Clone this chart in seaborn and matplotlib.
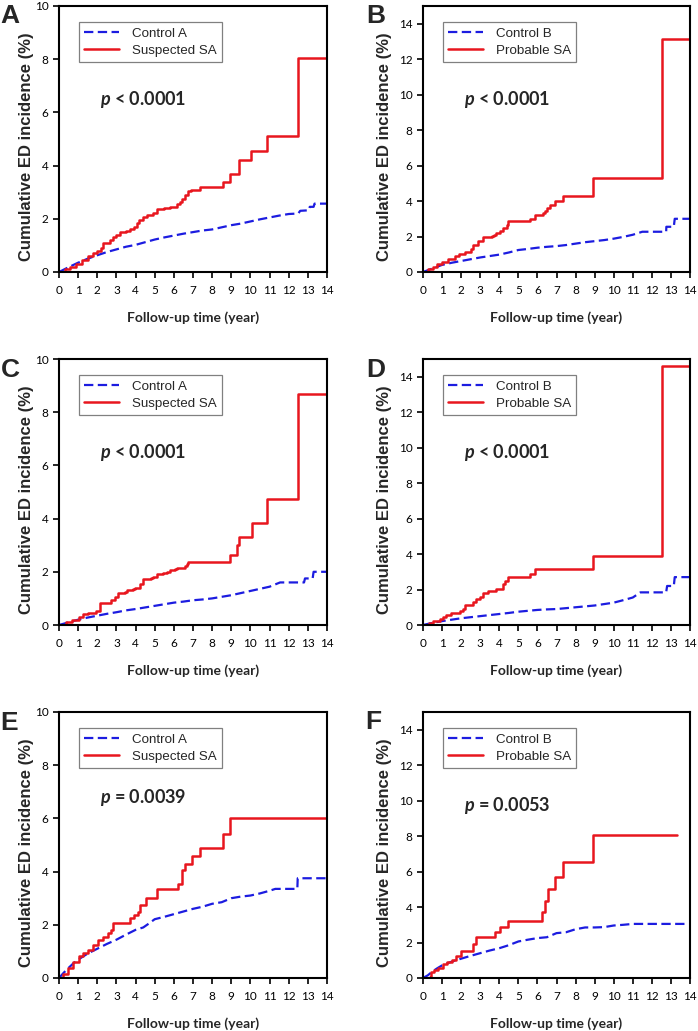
import matplotlib
matplotlib.use("Agg")
import matplotlib.pyplot as plt
import pandas as pd
import seaborn as sns

# ---- values (cumulative ED incidence, %) ----
# control curves: many tiny steps, drawn as a line; repeated times mark the visible jumps
# case curves: drawn as steps (step-post)

# panel A: control A vs suspected SA
a_ctrl_t = [0, 0.5, 1, 1.5, 2, 2.5, 3, 3.5, 4, 4.5, 5, 5.5, 6, 6.5, 7, 7.5, 8, 8.5, 9, 9.5,
            10, 10.5, 11, 11.5, 12, 12.5, 12.6, 13.05, 13.1, 13.3, 13.35, 14]
a_ctrl_y = [0, 0.18, 0.35, 0.5, 0.63, 0.75, 0.85, 0.95, 1.02, 1.12, 1.22, 1.3, 1.37, 1.44, 1.5, 1.56,
            1.6, 1.68, 1.76, 1.82, 1.9, 1.98, 2.05, 2.12, 2.18, 2.2, 2.3, 2.32, 2.45, 2.45, 2.57, 2.57]
a_case_t = [0, 0.3, 0.6, 0.9, 1.2, 1.5, 1.8, 2.0, 2.2, 2.3, 2.65, 2.8, 3.0, 3.2, 3.5, 3.7, 3.9, 4.1,
            4.2, 4.4, 4.6, 4.9, 5.1, 5.5, 5.8, 6.15, 6.3, 6.45, 6.6, 6.75, 6.9, 7.35, 8.55, 8.95,
            9.4, 10.05, 10.85, 12.47, 14]
a_case_y = [0, 0.1, 0.2, 0.3, 0.45, 0.6, 0.7, 0.8, 0.9, 1.1, 1.2, 1.3, 1.4, 1.5, 1.55, 1.6, 1.7, 1.85,
            1.95, 2.05, 2.15, 2.2, 2.35, 2.4, 2.45, 2.55, 2.65, 2.75, 2.9, 3.05, 3.1, 3.2, 3.4, 3.7,
            4.2, 4.55, 5.1, 8.05, 8.05]

# panel B: control B vs probable SA
b_ctrl_t = [0, 0.5, 1, 1.5, 2, 2.5, 3, 3.5, 4, 4.5, 5, 5.5, 6, 6.5, 7, 7.5, 8, 8.5, 9, 9.5,
            10, 10.5, 11, 11.5, 12.75, 12.76, 13.15, 13.2, 14]
b_ctrl_y = [0, 0.2, 0.4, 0.52, 0.62, 0.72, 0.82, 0.9, 0.98, 1.1, 1.24, 1.3, 1.37, 1.42, 1.46, 1.52,
            1.6, 1.68, 1.74, 1.8, 1.88, 1.98, 2.1, 2.27, 2.27, 2.55, 2.55, 3.0, 3.0]
b_case_t = [0, 0.25, 0.5, 0.75, 1.0, 1.3, 1.66, 1.9, 2.19, 2.5, 2.63, 2.89, 3.15, 3.6, 3.7, 3.85,
            4.03, 4.2, 4.38, 4.47, 5.6, 5.87, 6.3, 6.4, 6.5, 6.65, 6.92, 7.36, 8.93, 12.52, 14]
b_case_y = [0, 0.15, 0.3, 0.45, 0.58, 0.75, 0.9, 1.0, 1.1, 1.3, 1.5, 1.75, 2.0, 2.05, 2.1, 2.2,
            2.3, 2.5, 2.65, 2.9, 3.0, 3.2, 3.3, 3.45, 3.6, 3.8, 4.0, 4.3, 5.3, 13.15, 13.15]

# panel C
c_ctrl_t = [0, 0.5, 1, 1.5, 2, 2.5, 3, 3.5, 4, 4.5, 5, 5.5, 6, 6.5, 7, 7.5, 8, 8.5, 9, 9.5,
            10, 10.5, 11, 11.55, 12.8, 12.85, 13.25, 13.3, 14]
c_ctrl_y = [0, 0.1, 0.2, 0.28, 0.35, 0.42, 0.48, 0.55, 0.6, 0.66, 0.72, 0.78, 0.84, 0.88, 0.93,
            0.96, 1.0, 1.06, 1.12, 1.2, 1.28, 1.36, 1.44, 1.6, 1.6, 1.75, 1.75, 2.0, 2.0]
c_case_t = [0, 0.35, 0.7, 1.03, 1.25, 1.52, 1.95, 2.13, 2.74, 2.91, 3.09, 3.44, 3.53, 3.87, 3.96,
            4.22, 4.4, 4.83, 4.92, 5.1, 5.45, 5.62, 5.79, 6.06, 6.14, 6.58, 6.67, 6.75, 8.94, 9.28,
            9.42, 10.07, 10.84, 12.48, 14]
c_case_y = [0, 0.1, 0.2, 0.3, 0.4, 0.46, 0.54, 0.81, 0.95, 1.05, 1.2, 1.25, 1.3, 1.35, 1.4,
            1.55, 1.72, 1.75, 1.8, 1.9, 1.95, 2.0, 2.05, 2.1, 2.15, 2.2, 2.3, 2.38, 2.65, 3.0,
            3.3, 3.85, 4.75, 8.7, 8.7]

# panel D
d_ctrl_t = [0, 0.5, 1, 1.5, 2, 2.5, 3, 3.5, 4, 4.5, 5, 5.5, 6, 6.5, 7, 7.5, 8, 8.5, 9, 9.5,
            10, 10.5, 11, 11.4, 12.75, 12.8, 13.15, 13.2, 14]
d_ctrl_y = [0, 0.12, 0.22, 0.3, 0.38, 0.44, 0.5, 0.56, 0.62, 0.68, 0.75, 0.8, 0.85, 0.88, 0.9,
            0.95, 1.0, 1.05, 1.1, 1.18, 1.26, 1.4, 1.55, 1.84, 1.84, 2.2, 2.2, 2.7, 2.7]
d_case_t = [0, 0.3, 0.53, 0.88, 1.05, 1.23, 1.49, 1.93, 2.1, 2.19, 2.63, 2.8, 2.98, 3.15, 3.42,
            3.85, 4.2, 4.29, 4.47, 5.6, 5.87, 8.93, 12.52, 14]
d_case_y = [0, 0.1, 0.25, 0.35, 0.45, 0.55, 0.7, 0.8, 0.9, 1.1, 1.3, 1.45, 1.6, 1.8, 1.9,
            2.05, 2.3, 2.5, 2.7, 2.9, 3.15, 3.9, 14.6, 14.6]

# panel E
e_ctrl_t = [0, 0.25, 0.5, 0.75, 1, 1.5, 2, 2.5, 3, 3.5, 4, 4.4, 4.7, 5, 5.5, 6, 6.5, 7, 7.5, 8,
            8.5, 9, 9.5, 10, 10.5, 11, 11.3, 12.45, 12.47, 14]
e_ctrl_y = [0, 0.2, 0.38, 0.55, 0.69, 0.92, 1.1, 1.28, 1.44, 1.63, 1.81, 1.9, 2.05, 2.21, 2.3,
            2.4, 2.5, 2.6, 2.68, 2.79, 2.85, 3.0, 3.06, 3.1, 3.18, 3.28, 3.35, 3.35, 3.75, 3.75]
e_case_t = [0, 0.2, 0.47, 0.75, 1.03, 1.25, 1.52, 1.8, 2.04, 2.3, 2.57, 2.74, 2.83, 3.7, 3.9,
            4.14, 4.22, 4.57, 5.1, 6.23, 6.4, 6.58, 6.93, 7.36, 8.55, 8.94, 14]
e_case_y = [0, 0.15, 0.37, 0.6, 0.81, 0.95, 1.06, 1.25, 1.44, 1.56, 1.69, 1.81, 2.07, 2.25, 2.35,
            2.5, 2.75, 3.0, 3.35, 3.55, 4.05, 4.3, 4.6, 4.9, 5.4, 6.02, 6.02]

# panel F
f_ctrl_t = [0, 0.25, 0.5, 0.75, 1, 1.5, 2, 2.5, 3, 3.5, 4, 4.5, 5, 5.5, 6, 6.5, 7, 7.5, 8, 8.5,
            9, 9.5, 10, 10.5, 11, 13.75]
f_ctrl_y = [0, 0.15, 0.37, 0.55, 0.71, 0.92, 1.09, 1.25, 1.4, 1.55, 1.68, 1.85, 2.06, 2.16, 2.25,
            2.3, 2.53, 2.58, 2.75, 2.85, 2.85, 2.87, 2.96, 3.0, 3.05, 3.05]
f_case_t = [0, 0.35, 0.44, 0.6, 0.8, 1.05, 1.25, 1.5, 1.75, 2.0, 2.6, 2.8, 3.76, 4.03, 4.47,
            6.22, 6.4, 6.57, 6.9, 7.35, 8.93, 13.3]
f_case_y = [0, 0.05, 0.34, 0.45, 0.56, 0.79, 0.9, 1.01, 1.22, 1.5, 1.9, 2.3, 2.6, 2.85, 3.2,
            3.75, 4.35, 5.0, 5.7, 6.55, 8.05, 8.05]

letters = ["A", "B", "C", "D", "E", "F"]
ctrl_labels = ["Control A", "Control B", "Control A", "Control B", "Control A", "Control B"]
case_labels = ["Suspected SA", "Probable SA", "Suspected SA", "Probable SA", "Suspected SA", "Probable SA"]
p_texts = ["< 0.0001", "< 0.0001", "< 0.0001", "< 0.0001", "= 0.0039", "= 0.0053"]
y_max = [10, 15, 10, 15, 10, 15]

curves = [
    (a_ctrl_t, a_ctrl_y, a_case_t, a_case_y),
    (b_ctrl_t, b_ctrl_y, b_case_t, b_case_y),
    (c_ctrl_t, c_ctrl_y, c_case_t, c_case_y),
    (d_ctrl_t, d_ctrl_y, d_case_t, d_case_y),
    (e_ctrl_t, e_ctrl_y, e_case_t, e_case_y),
    (f_ctrl_t, f_ctrl_y, f_case_t, f_case_y),
]

sns.set_style("white")
plt.rcParams["font.family"] = ["Lato", "DejaVu Sans"]
plt.rcParams["mathtext.fontset"] = "custom"
plt.rcParams["mathtext.it"] = "Lato:bold:italic"
plt.rcParams["mathtext.rm"] = "Lato:bold"

RED = "#e8161e"
BLUE = "#1c1ce0"
W, H = 698, 1031

fig = plt.figure(figsize=(W / 100, H / 100), dpi=100)

# axes boxes in pixels
lefts = [59, 423]
widths = [268, 267]
tops = [6, 359, 712]
ax_h = 266
letter_pos = [(0, 23), (366, 23), (1, 377), (366, 377), (0, 730), (365, 729)]
ylab_x = [-0.12, -0.146]
p_y = [0.647, 0.647, 0.65, 0.65, 0.68, 0.65]

for i in range(6):
    col, row = i % 2, i // 2
    l, w, t = lefts[col], widths[col], tops[row]
    ax = fig.add_axes([l / W, 1 - (t + ax_h) / H, w / W, ax_h / H])
    ct, cy, st, sy = curves[i]

    sns.lineplot(data=pd.DataFrame({"t": ct, "y": cy}), x="t", y="y", ax=ax,
                 estimator=None, sort=False, color=BLUE, linewidth=1.6,
                 linestyle=(0, (4.2, 2.0)), label=ctrl_labels[i])
    sns.lineplot(data=pd.DataFrame({"t": st, "y": sy}), x="t", y="y", ax=ax,
                 estimator=None, sort=False, color=RED, linewidth=1.8,
                 drawstyle="steps-post", label=case_labels[i])

    ax.set_xlim(0, 14)
    ax.set_ylim(0, y_max[i])
    ax.set_xticks(range(15))
    ax.set_yticks(range(0, y_max[i], 2) if y_max[i] == 15 else range(0, 11, 2))
    for s in ax.spines.values():
        s.set_visible(True)
        s.set_color("black")
        s.set_linewidth(1.5)
    ax.tick_params(axis="both", direction="out", length=4.5, width=1.2,
                   labelsize=8.5, colors="black", bottom=True, left=True)
    ax.tick_params(axis="x", pad=5)
    ax.tick_params(axis="y", pad=3)

    ax.set_xlabel("Follow-up time (year)", fontsize=10, fontweight="bold")
    ax.xaxis.set_label_coords(0.5, -0.17)
    ax.xaxis.label.set_va("center")
    ax.set_ylabel("Cumulative ED incidence (%)", fontsize=12, fontweight="bold",
                  family=["Liberation Sans"])
    ax.yaxis.set_label_coords(ylab_x[col], 0.47)
    ax.yaxis.label.set_va("center")

    ax.text(0.153, p_y[i], "$p$ " + p_texts[i], transform=ax.transAxes,
            fontsize=13, fontweight="bold", va="center", ha="left")

    leg = ax.legend(loc="upper left", bbox_to_anchor=(0.075, 0.94), borderaxespad=0,
                    frameon=True, fancybox=False, framealpha=1, edgecolor="#808080",
                    prop={"family": "Liberation Sans", "size": 9.6},
                    handlelength=2.6, handletextpad=0.95, labelspacing=0.35, borderpad=0.4)
    leg.get_frame().set_linewidth(0.9)

    lx, ly = letter_pos[i]
    fig.text(lx / W, 1 - ly / H, letters[i], fontsize=19, fontweight="bold",
             family=["Liberation Sans"], ha="left", va="baseline")

fig.savefig("out.png", dpi=100)
